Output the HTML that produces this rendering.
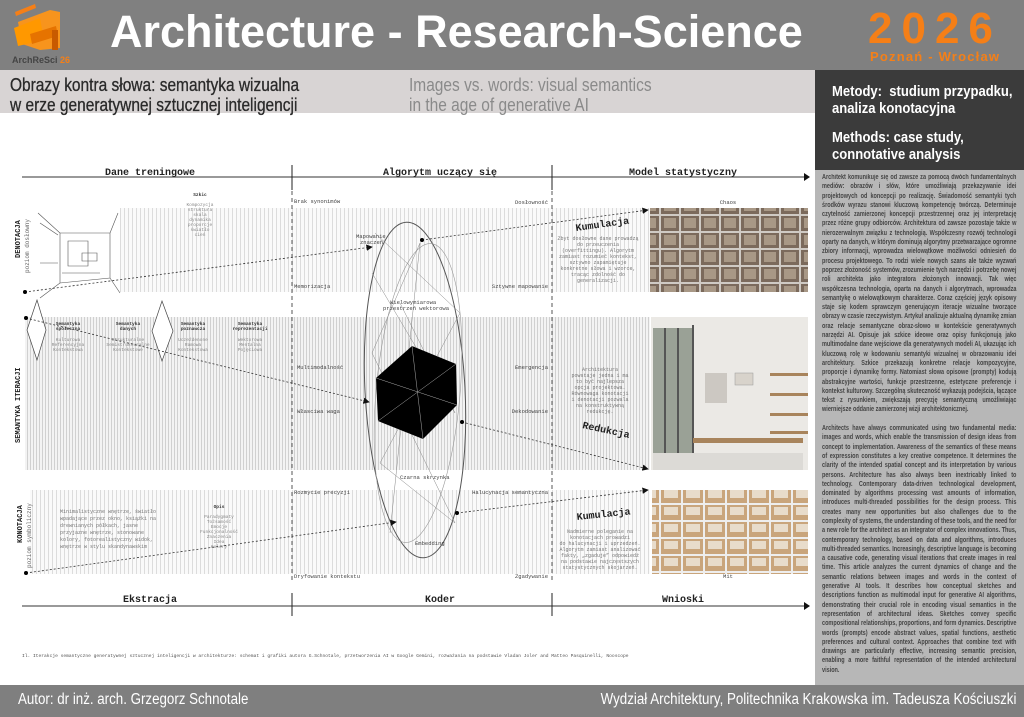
<!DOCTYPE html>
<html><head><meta charset="utf-8">
<style>
*{margin:0;padding:0;box-sizing:border-box}
html,body{width:1024px;height:717px;overflow:hidden}
body{background:#fff;font-family:"Liberation Sans",sans-serif;position:relative}
.abs{position:absolute}
#hdr{left:0;top:0;width:1024px;height:70px;background:#808080}
#title{left:110px;top:6px;font-size:45px;font-weight:bold;color:#fff;white-space:nowrap}
#y2026{left:868px;top:4px;font-size:44px;font-weight:bold;color:#f57f17;letter-spacing:9px}
#pw{left:870px;top:49px;font-size:13px;font-weight:bold;color:#f57f17;letter-spacing:1.2px}
#band{left:0;top:70px;width:815px;height:43px;background:#d8d4d4}
.t1{font-size:18px;color:#2a2a2a;line-height:20px;transform:scaleX(0.86);transform-origin:left;white-space:nowrap;-webkit-text-stroke:0.3px #2a2a2a}
.t2{font-size:18px;color:#8a8a8a;line-height:20px;transform:scaleX(0.86);transform-origin:left;white-space:nowrap}
#rdark{left:815px;top:70px;width:209px;height:100px;background:#3b3b3b;color:#fff;font-size:14.5px;font-weight:bold;line-height:17px;padding:14px 0 0 17px}
#rdark div{transform:scaleX(0.9);transform-origin:left;white-space:nowrap}
#rgray{left:815px;top:170px;width:209px;height:515px;background:#b7b7b7;overflow:hidden}
#rtxt{position:absolute;left:7px;top:3px;width:243px;transform:scaleX(0.8);transform-origin:left top;color:#444;font-size:6.9px;font-weight:bold;line-height:9.3px;text-align:justify}
#foot{left:0;top:685px;width:1024px;height:32px;background:#7f7f7f;color:#fff;font-size:15.5px}
#foot span{position:absolute;top:6px;transform:scaleX(0.86);white-space:nowrap}
</style></head><body>
<div id="hdr" class="abs"></div>
<svg class="abs" style="left:0;top:0" width="110" height="70">
<polygon points="15,12 35,4 36,8 16,16" fill="#f57f17"/>
<polygon points="18,22 50,10 60,12 60,48 40,50 22,44" fill="#f7941d"/>
<polygon points="14,28 40,18 44,40 18,46" fill="#ff9800"/>
<polygon points="30,34 56,26 58,36 32,44" fill="#e67300"/>
<polygon points="52,30 58,30 58,50 52,50" fill="#c85a00"/>
<text x="12" y="63" font-size="9" font-weight="bold" fill="#444" font-family="Liberation Sans">ArchReSci <tspan fill="#f57f17">26</tspan></text>
</svg>
<div id="title" class="abs">Architecture - Research-Science</div>
<div id="y2026" class="abs">2026</div>
<div id="pw" class="abs">Poznań - Wrocław</div>
<div id="band" class="abs"></div>
<div class="abs t1" style="left:10px;top:75px">Obrazy kontra słowa: semantyka wizualna<br>w erze generatywnej sztucznej inteligencji</div>
<div class="abs t2" style="left:409px;top:75px">Images vs. words: visual semantics<br>in the age of generative AI</div>
<div id="rdark" class="abs"><div>Metody:&nbsp; studium przypadku,</div><div>analiza konotacyjna</div><div style="margin-top:12px">Methods: case study,</div><div>connotative analysis</div></div>
<div id="rgray" class="abs"><div id="rtxt">Architekt komunikuje się od zawsze za pomocą dwóch fundamentalnych mediów: obrazów i słów, które umożliwiają przekazywanie idei projektowych od koncepcji po realizację. Świadomość semantyki tych środków wyrazu stanowi kluczową kompetencję twórczą. Determinuje czytelność zamierzonej koncepcji przestrzennej oraz jej interpretację przez różne grupy odbiorców. Architektura od zawsze pozostaje także w nierozerwalnym związku z technologią. Współczesny rozwój technologii oparty na danych, w którym dominują algorytmy przetwarzające ogromne zbiory informacji, wprowadza wielowątkowe możliwości odniesień do procesu projektowego. To rodzi wiele nowych szans ale także wyzwań poprzez złożoność systemów, zrozumienie tych narzędzi i potrzebę nowej roli architekta jako integratora złożonych innowacji. Tak więc współczesna technologia, oparta na danych i algorytmach, wprowadza semantykę o wielowątkowym charakterze. Coraz częściej język opisowy staje się kodem sprawczym generującym iteracje wizualne tworzące obrazy w czasie rzeczywistym. Artykuł analizuje aktualną dynamikę zmian oraz relacje semantyczne obraz-słowo w kontekście generatywnych narzędzi AI. Opisuje jak szkice ideowe oraz opisy funkcjonują jako multimodalne dane wejściowe dla generatywnych modeli AI, ukazując ich kluczową rolę w kodowaniu semantyki wizualnej w obrazowaniu idei architektury. Szkice przekazują konkretne relacje kompozycyjne, proporcje i dynamikę formy. Natomiast słowa opisowe (prompty) kodują abstrakcyjne wartości, funkcje przestrzenne, estetyczne preferencje i kontekst kulturowy. Szczególną skuteczność wykazują podejścia, łączące tekst z rysunkiem, zwiększają precyzję semantyczną umożliwiając wierniejsze oddanie zamierzonej wizji architektonicznej.<br><br>Architects have always communicated using two fundamental media: images and words, which enable the transmission of design ideas from concept to implementation. Awareness of the semantics of these means of expression constitutes a key creative competence. It determines the clarity of the intended spatial concept and its interpretation by various persons. Architecture has also always been inextricably linked to technology. Contemporary data-driven technological development, dominated by algorithms processing vast amounts of information, introduces multi-threaded possibilities for the design process. This creates many new opportunities but also challenges due to the complexity of systems, the understanding of these tools, and the need for a new role for the architect as an integrator of complex innovations. Thus, contemporary technology, based on data and algorithms, introduces multi-threaded semantics. Increasingly, descriptive language is becoming a causative code, generating visual iterations that create images in real time. This article analyzes the current dynamics of change and the semantic relations between images and words in the context of generative AI tools. It describes how conceptual sketches and descriptions function as multimodal input for generative AI algorithms, demonstrating their crucial role in encoding visual semantics in the representation of architectural ideas. Sketches convey specific compositional relationships, proportions, and form dynamics. Descriptive words (prompts) encode abstract values, spatial functions, aesthetic preferences and cultural context. Approaches that combine text with drawings are particularly effective, increasing semantic precision, enabling a more faithful representation of the intended architectural vision.</div></div>

<svg class="abs" style="left:0;top:113px" width="815" height="572" font-family="Liberation Mono, monospace">
<defs>
<pattern id="st" width="4" height="10" patternUnits="userSpaceOnUse"><rect width="4" height="10" fill="#fafafa"/><rect width="1" height="10" fill="#dcdcdc"/></pattern>
<pattern id="st2" width="3" height="10" patternUnits="userSpaceOnUse"><rect width="3" height="10" fill="#f3f3f3"/><rect width="1" height="10" fill="#d0d0d0"/></pattern>
<marker id="ar" markerWidth="8" markerHeight="8" refX="7" refY="4" orient="auto"><path d="M0,0L8,4L0,8z" fill="#111"/></marker>
<pattern id="g1" width="20" height="17" patternUnits="userSpaceOnUse"><rect width="20" height="17" fill="#cfcac4"/><rect x="1" y="1" width="18" height="15" fill="#7b6a5c"/><rect x="4" y="3" width="12" height="10" fill="#a89886"/></pattern>
<pattern id="g3" width="22" height="17" patternUnits="userSpaceOnUse"><rect width="22" height="17" fill="#eee"/><rect x="1" y="1" width="20" height="15" fill="#c9a57c"/><rect x="4" y="3" width="14" height="8" fill="#e8dccb"/></pattern>
</defs>
<line x1="22" y1="64" x2="806" y2="64" stroke="#999" stroke-width="2"/>
<path d="M804,60L810,64L804,68z" fill="#111"/>
<line x1="292" y1="52" x2="292" y2="77" stroke="#222"/><line x1="552" y1="52" x2="552" y2="77" stroke="#222"/>
<g font-size="10" font-weight="bold" fill="#222" text-anchor="middle"><text x="150" y="62">Dane treningowe</text><text x="440" y="62">Algorytm uczący się</text><text x="683" y="62">Model statystyczny</text></g>
<rect x="120" y="95" width="530" height="84" fill="url(#st)"/>
<rect x="25" y="204" width="625" height="153" fill="url(#st2)"/>
<rect x="30" y="377" width="620" height="84" fill="url(#st)"/>
<line x1="292" y1="78" x2="292" y2="470" stroke="#555" stroke-dasharray="4,3"/>
<line x1="552" y1="78" x2="552" y2="470" stroke="#555" stroke-dasharray="4,3"/>
<g stroke="#555" fill="none" stroke-width="0.6"><path d="M38,100L60,120L60,170L40,185M60,120L110,120L110,165L60,170M110,120L118,100M110,165L120,180M68,128h20v25h-20zM82,140h15v8h-15zM40,110L58,122M40,150L58,150M62,160L100,160"/></g>
<g font-size="7" font-weight="bold" fill="#222"><text transform="translate(20,145) rotate(-90)">DENOTACJA</text><text transform="translate(20,330) rotate(-90)">SEMANTYKA ITERACJI</text><text transform="translate(22,430) rotate(-90)">KONOTACJA</text></g>
<g font-size="6" fill="#666"><text transform="translate(29,160) rotate(-90)">poziom dosłowny</text><text transform="translate(31,455) rotate(-90)">poziom symboliczny</text></g>
<polygon points="37,187 46,217 37,247 27,217" fill="#fff" stroke="#444" stroke-width="0.7"/>
<polygon points="162,188 173,218 162,248 152,218" fill="#fff" stroke="#444" stroke-width="0.7"/>
<g font-size="4.5" fill="#333" text-anchor="middle" font-weight="bold"><text x="68" y="212">Semantyka</text><text x="68" y="217">społeczna</text><text x="128" y="212">Semantyka</text><text x="128" y="217">danych</text><text x="193" y="212">Semantyka</text><text x="193" y="217">poznawcza</text><text x="250" y="212">Semantyka</text><text x="250" y="217">reprezentacji</text><text x="200" y="83">Szkic</text><text x="219" y="395">Opis</text></g>
<g font-size="4.5" fill="#888" text-anchor="middle"><text x="68" y="228">Kulturowa</text><text x="68" y="233">Referencyjna</text><text x="68" y="238">Kontekstowa</text><text x="128" y="228">Strukturalne</text><text x="128" y="233">Semistrukturalne</text><text x="128" y="238">Kontekstowe</text><text x="193" y="228">Uczeżdenone</text><text x="193" y="233">Ramowa</text><text x="193" y="238">Kontekstowa</text><text x="250" y="228">Wektorowa</text><text x="250" y="233">Mentalna</text><text x="250" y="238">Pojęciowa</text>
<text x="200" y="93">Kompozycja</text><text x="200" y="98">struktura</text><text x="200" y="103">skala</text><text x="200" y="108">dynamika</text><text x="200" y="113">proporcje</text><text x="200" y="118">światło</text><text x="200" y="123">cień</text>
<text x="219" y="405">Paradygmaty</text><text x="219" y="410">Tożsamość</text><text x="219" y="415">Emocje</text><text x="219" y="420">Funkcjonalność</text><text x="219" y="425">Znaczenia</text><text x="219" y="430">Idea</text><text x="219" y="435">Kolory</text></g>
<g font-size="5" fill="#777"><text x="60" y="400">Minimalistyczne wnętrze, światło</text><text x="60" y="407">wpadające przez okno, książki na</text><text x="60" y="414">drewnianych półkach, jasne</text><text x="60" y="421">przyjazne wnętrze, stonowane</text><text x="60" y="428">kolory, fotorealistyczny widok,</text><text x="60" y="435">wnętrze w stylu skandynawskim</text></g>
<ellipse cx="415" cy="277" rx="50" ry="168" fill="none" stroke="#555" stroke-width="1" transform="rotate(-3 415 277)"/>
<ellipse cx="418" cy="280" rx="42" ry="150" fill="none" stroke="#999" stroke-width="0.6" transform="rotate(5 418 280)"/>
<g stroke="#888" stroke-width="0.5" fill="none"><path d="M375,120L460,200L380,350L455,410L372,240L420,130L390,420M372,160L455,300L400,190"/></g>
<polygon points="412,233 456,251 457,292 423,326 378,308 376,265" fill="#000"/>
<g stroke="#aaa" stroke-width="0.5"><path d="M412,233L423,326M376,265L457,292M378,308L456,251"/></g>
<g font-size="5.5" fill="#444"><text x="294" y="90">Brak synonimów</text><text x="294" y="175">Memorizacja</text><text x="297" y="256">Multimodalność</text><text x="297" y="300">Własciwa waga</text><text x="294" y="381">Rozmycie precyzji</text><text x="294" y="465">Dryfowanie kontekstu</text>
<text x="548" y="91" text-anchor="end">Dosłowność</text><text x="548" y="175" text-anchor="end">Sztywne mapowanie</text><text x="548" y="256" text-anchor="end">Emergencja</text><text x="548" y="300" text-anchor="end">Dekodowanie</text><text x="548" y="381" text-anchor="end">Halucynacja semantyczna</text><text x="548" y="465" text-anchor="end">Zgadywanie</text>
<text x="728" y="91" text-anchor="middle">Chaos</text><text x="728" y="465" text-anchor="middle">Mit</text>
<text x="356" y="125">Mapowanie</text><text x="360" y="131">znaczeń</text><text x="390" y="191">Wielowymiarowa</text><text x="383" y="197">przestrzeń wektorowa</text><text x="400" y="366">Czarna skrzynka</text><text x="415" y="432">Embedding</text></g>
<g font-size="10" font-weight="bold" fill="#222"><text x="576" y="118" transform="rotate(-8 576 118)">Kumulacja</text><text x="577" y="407" transform="rotate(-6 577 407)">Kumulacja</text><text x="582" y="315" transform="rotate(12 582 315)">Redukcja</text></g>
<g font-size="5" fill="#777" text-anchor="middle"><text x="598" y="127">Zbyt dosłowne dane prowadzą</text><text x="598" y="133">do przeuczenia</text><text x="598" y="139">(overfittingu). Algorytm</text><text x="598" y="145">zamiast rozumieć kontekst,</text><text x="598" y="151">sztywno zapamiętuje</text><text x="598" y="157">konkretne słowa i wzorce,</text><text x="598" y="163">tracąc zdolność do</text><text x="598" y="169">generalizacji.</text>
<text x="600" y="258">Architektura</text><text x="600" y="264">powstaje jedna i ma</text><text x="600" y="270">to być najlepsza</text><text x="600" y="276">opcja projektowa.</text><text x="600" y="282">Równowaga konotacji</text><text x="600" y="288">i denotacji pozwala</text><text x="600" y="294">na konstruktywną</text><text x="600" y="300">redukcję.</text>
<text x="600" y="420">Nadmierne poleganie na</text><text x="600" y="426">konotacjach prowadzi</text><text x="600" y="432">do halucynacji i uprzedzeń.</text><text x="600" y="438">Algorytm zamiast analizować</text><text x="600" y="444">fakty, „zgaduje” odpowiedź</text><text x="600" y="450">na podstawie najczęstszych</text><text x="600" y="456">statystycznych skojarzeń.</text></g>
<g stroke="#333" stroke-width="0.8" stroke-dasharray="2,2" fill="none" marker-end="url(#ar)">
<line x1="25" y1="179" x2="372" y2="134"/><line x1="26" y1="205" x2="369" y2="289"/><line x1="26" y1="460" x2="396" y2="409"/>
<line x1="422" y1="127" x2="648" y2="97"/><line x1="462" y1="309" x2="648" y2="356"/><line x1="457" y1="400" x2="648" y2="377"/></g>
<g fill="#000"><circle cx="25" cy="179" r="2"/><circle cx="26" cy="205" r="2"/><circle cx="26" cy="460" r="2"/><circle cx="422" cy="127" r="2"/><circle cx="462" cy="309" r="2"/><circle cx="457" cy="400" r="2"/></g>
<rect x="650" y="95" width="158" height="84" fill="url(#g1)"/>
<rect x="651" y="204" width="157" height="153" fill="#ebe9e5"/>
<rect x="653" y="215" width="40" height="140" fill="#9aa196"/>
<g stroke="#555" stroke-width="2"><line x1="665" y1="215" x2="665" y2="355"/><line x1="678" y1="215" x2="678" y2="355"/><line x1="693" y1="212" x2="693" y2="357"/></g>
<rect x="653" y="340" width="150" height="17" fill="#dcdad6"/>
<rect x="693" y="325" width="110" height="5" fill="#a8845c"/>
<g fill="#a8845c"><rect x="770" y="260" width="38" height="3"/><rect x="770" y="280" width="38" height="3"/><rect x="770" y="300" width="38" height="3"/><rect x="770" y="318" width="38" height="3"/></g>
<rect x="705" y="260" width="22" height="30" fill="#ccc8c2"/><rect x="735" y="260" width="18" height="12" fill="#d8d3cb" stroke="#999" stroke-width="0.5"/>
<rect x="652" y="377" width="156" height="84" fill="url(#g3)"/>
<line x1="22" y1="493" x2="806" y2="493" stroke="#999" stroke-width="2"/>
<path d="M804,489L810,493L804,497z" fill="#111"/>
<line x1="292" y1="480" x2="292" y2="503" stroke="#222"/><line x1="552" y1="480" x2="552" y2="503" stroke="#222"/>
<g font-size="10" font-weight="bold" fill="#222" text-anchor="middle"><text x="150" y="489">Ekstracja</text><text x="440" y="489">Koder</text><text x="683" y="489">Wnioski</text></g>
<text x="22" y="544" font-size="4.6" fill="#555">Il. Iterakcje semantyczne generatywnej sztucznej inteligencji w architekturze: schemat i grafiki autora G.Schnotale, przetworzenia AI w Google Gemini, rozważania na podstawie Vladan Joler and Matteo Pasquinelli, Nooscope</text>
</svg>
<div id="foot" class="abs"><span style="left:18px;transform-origin:left">Autor: dr inż. arch. Grzegorz Schnotale</span><span style="right:8px;transform-origin:right">Wydział Architektury, Politechnika Krakowska im. Tadeusza Kościuszki</span></div>
</body></html>
